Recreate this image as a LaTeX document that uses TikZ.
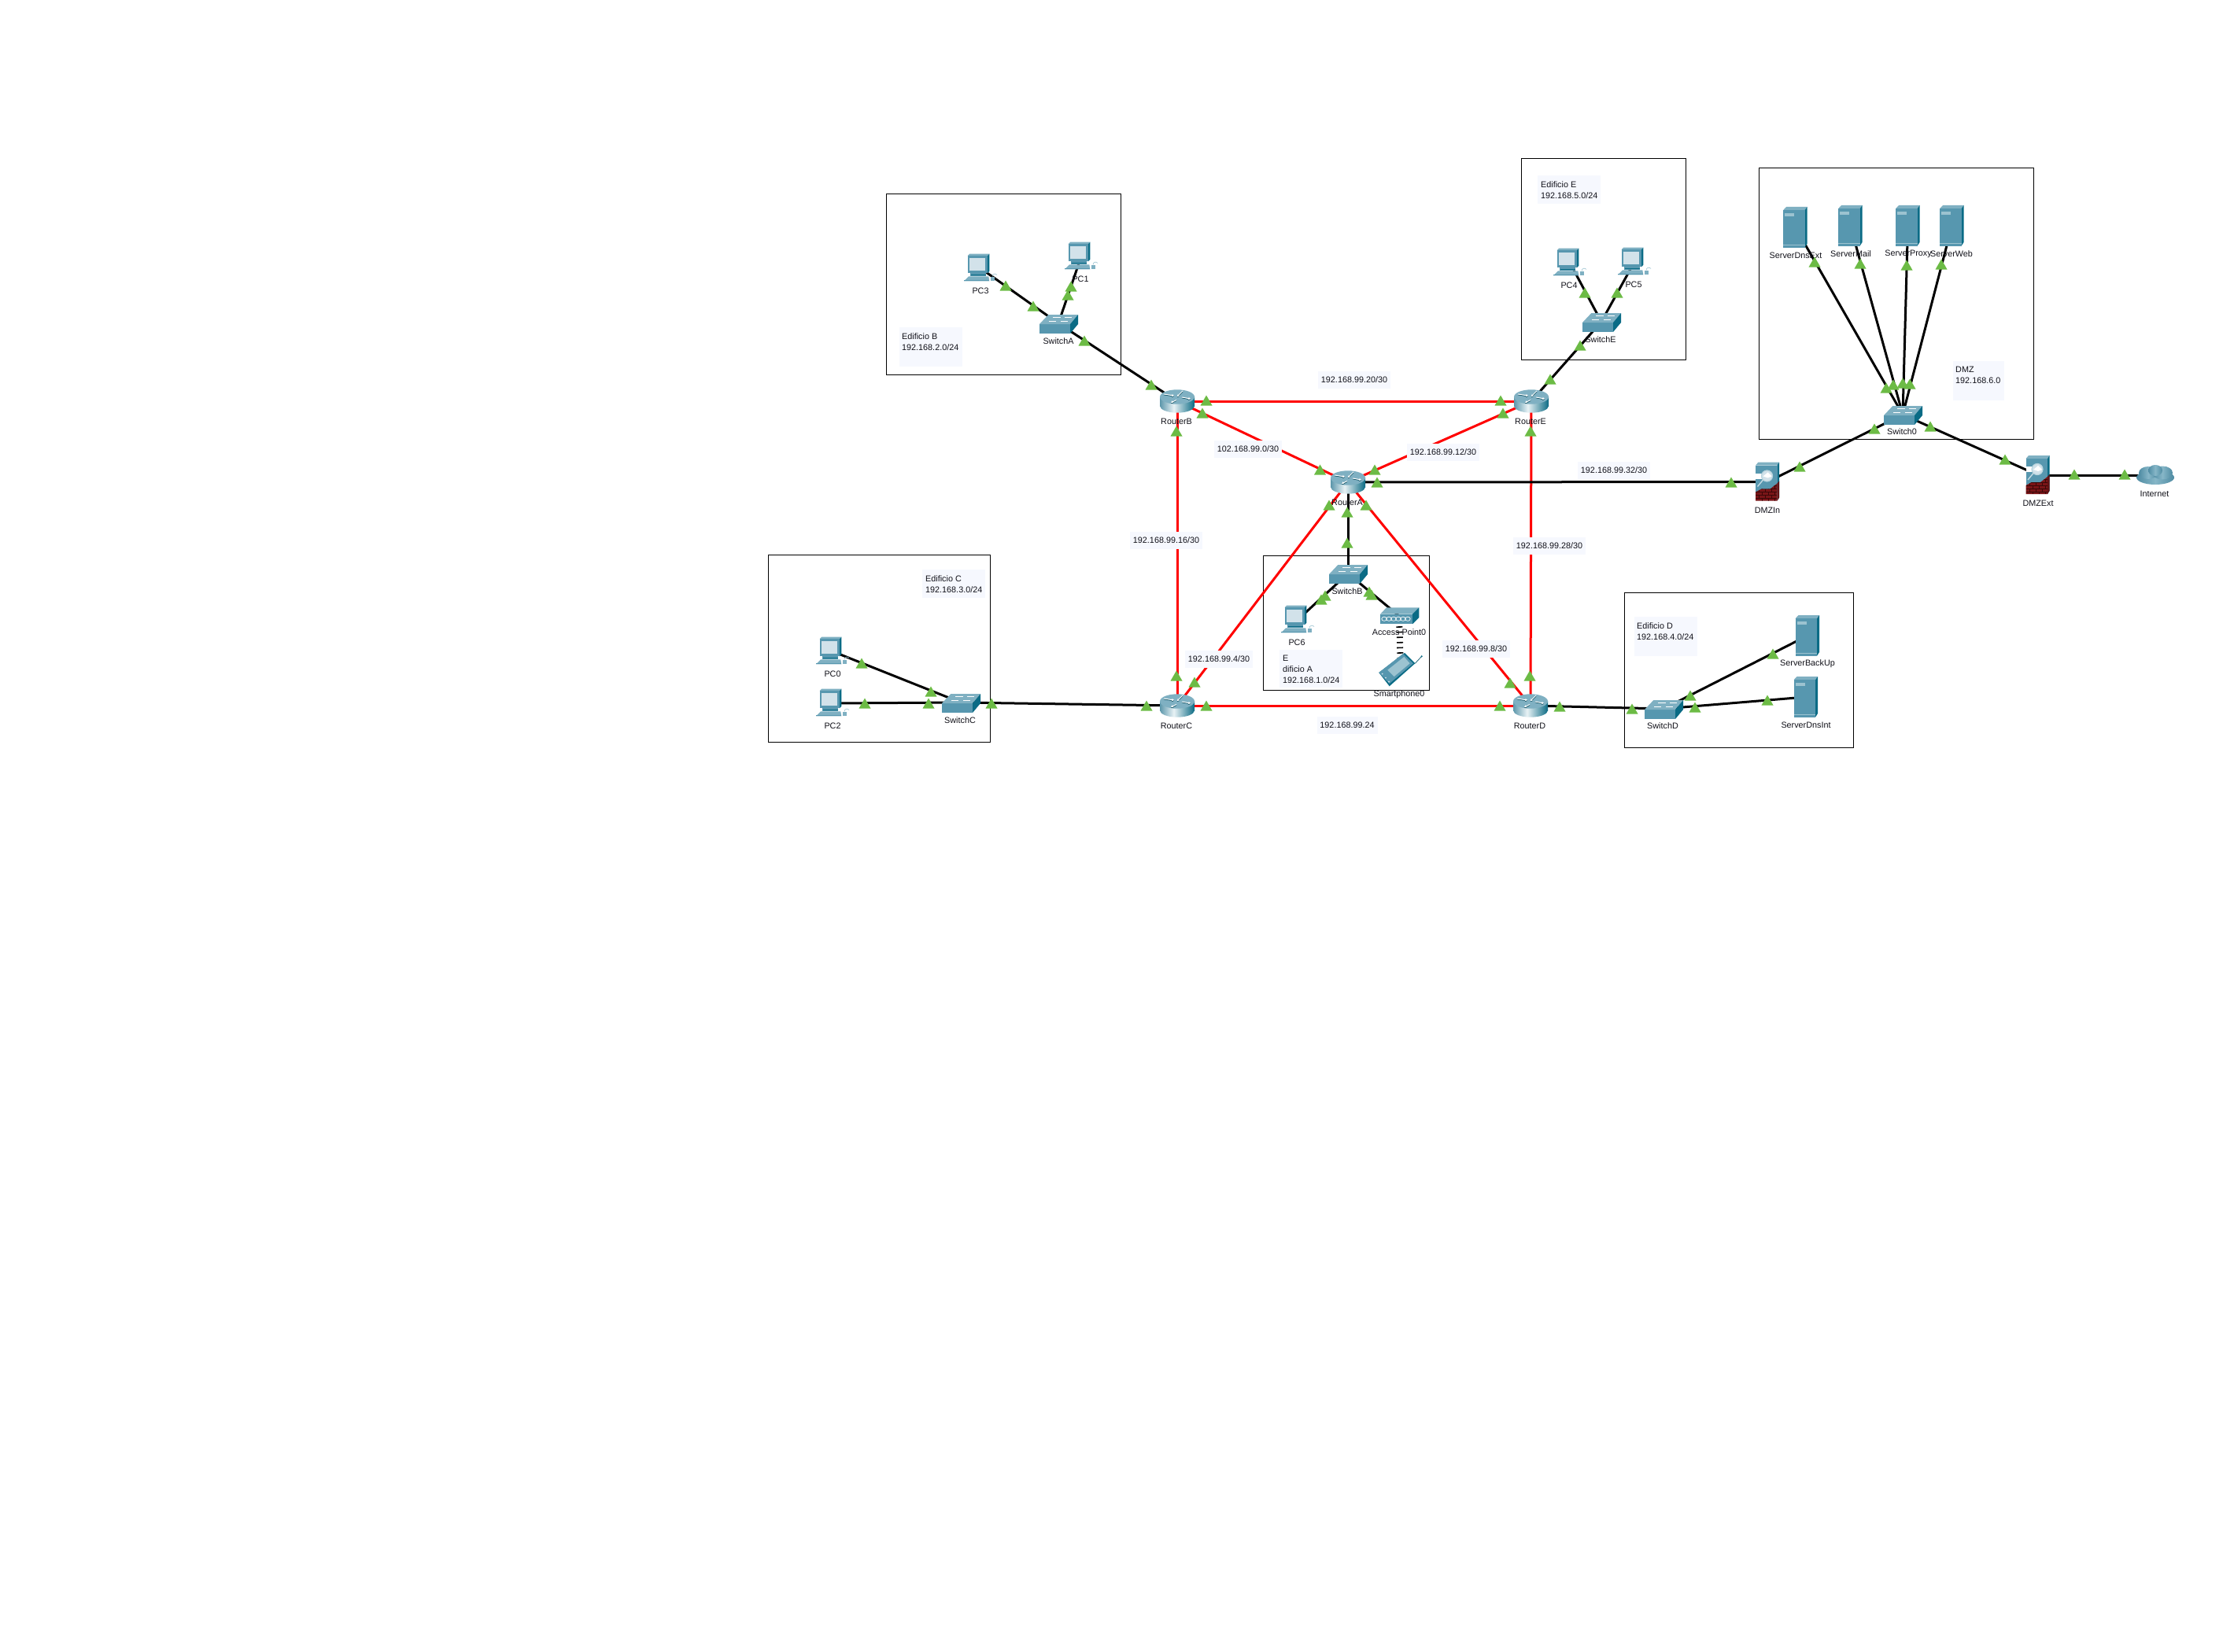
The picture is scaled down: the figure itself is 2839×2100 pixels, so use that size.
\documentclass[tikz,border=0pt]{standalone}
\usepackage{fontspec}
\setmainfont{Liberation Sans}
\usetikzlibrary{arrows.meta}
\definecolor{linkred}{HTML}{FF0000}
\definecolor{triG}{HTML}{6CBB45}
\definecolor{noteBg}{HTML}{F6F8FE}
\definecolor{txtC}{HTML}{101018}
\definecolor{tealF}{HTML}{5797AF}
\definecolor{tealT}{HTML}{7FB0C2}
\definecolor{tealS}{HTML}{0A6B85}
\definecolor{tealL}{HTML}{9CC3D0}
\definecolor{screenC}{HTML}{D2E2EA}
\definecolor{brickC}{HTML}{7A1518}
\definecolor{brickD}{HTML}{3A0808}
\definecolor{rtA}{HTML}{5C97AB}
\definecolor{rtB}{HTML}{E8F2F5}
\definecolor{rtC}{HTML}{0C6B84}
\definecolor{cldA}{HTML}{4F8CA3}
\definecolor{cldB}{HTML}{86B6C7}
\pgfdeclarehorizontalshading{rbody}{100bp}{color(0bp)=(rtA); color(25bp)=(rtA); color(45bp)=(rtB); color(75bp)=(rtC); color(100bp)=(rtC)}
\pgfdeclarehorizontalshading{cbody}{100bp}{color(0bp)=(cldA); color(25bp)=(cldA); color(50bp)=(cldB); color(75bp)=(cldA); color(100bp)=(cldA)}
\newcommand{\txtsize}{\fontsize{10.8}{14}\selectfont}
\tikzset{
  devbox/.style={inner sep=0pt,outer sep=0pt},
  wired/.style={black,line width=3pt},
  redlink/.style={linkred,line width=3pt},
  wirel/.style={black,line width=8pt,dash pattern=on 1.6pt off 5pt},
  area/.style={draw=black,line width=1pt,fill=none},
  devlbl/.style={font=\txtsize,text=txtC,inner sep=0pt},
  linklbl/.style={font=\txtsize,text=txtC,fill=noteBg,inner sep=0pt,minimum height=22pt,minimum width=92pt},
  notebg/.style={fill=noteBg,inner sep=0pt},
  notetxt/.style={font=\txtsize,text=txtC,inner sep=0pt,align=left,anchor=north west},
  pics/ltri/.style={code={\fill[triG] (-7.5,6.5) -- (0,-6.5) -- (7.5,6.5) -- cycle;}},
  pics/rtricon/.style={code={
    \shade[shading=rbody] (-22,-5.5) rectangle (22,6);
    \shade[shading=rbody] (0,6) ellipse (22 and 8.7);
    \fill[tealT] (0,-5.5) ellipse (22 and 9.2);
    \begin{scope}[line width=1pt,-{Stealth[length=3pt,width=3.5pt]}]
      \draw[tealS!70!black] (-17,-8.2) -- (-4,-6.2);
      \draw[tealS!70!black] (7,-12.2) -- (0,-5.2);
      \draw[tealS!70!black] (6,-4.2) -- (17,-2.2);
      \draw[tealS!70!black] (-1,-0.7) -- (-8,2.8);
      \draw[white] (-17,-9) -- (-4,-7);
      \draw[white] (7,-13) -- (0,-6);
      \draw[white] (6,-5) -- (17,-3);
      \draw[white] (-1,-1.5) -- (-8,2);
    \end{scope}
  }},
  pics/swicon/.style={code={
    \fill[tealF] (-24,1) rectangle (15,13);
    \fill[tealT] (-24,1) -- (-12.7,-11) -- (25,-11) -- (15,1) -- cycle;
    \fill[tealS] (15,1) -- (25,-11) -- (25,1) -- (15,13) -- cycle;
    \draw[white,line width=.8pt] (-7,-8) -- (3,-8) (8,-8) -- (17,-8) (-12,-3) -- (-3,-3) (3,-3) -- (12,-3);
  }},
  pics/pcicon/.style={code={
    \fill[tealT] (-16.3,-15.7) -- (-14,-18.3) -- (11.3,-18.3) -- (8.7,-15.7) -- cycle;
    \fill[tealS] (8.7,-15.7) -- (11.3,-18.3) -- (11.3,3.7) -- (8.7,6.3) -- cycle;
    \fill[tealF] (-16.3,-15.7) rectangle (8.7,6.3);
    \fill[screenC] (-14,-13) rectangle (6.3,3);
    \fill[tealF] (-13,6.3) rectangle (7,10);
    \fill[tealS] (-12,8) rectangle (7,9);
    \fill[tealT] (-21,16.3) -- (-15,10.3) -- (10.3,10.3) -- (11.3,16.3) -- cycle;
    \fill[tealF] (-21,15) rectangle (11,16.3);
    \fill[tealT] (12.5,10.5) rectangle (18,16.3);
    \draw[tealL,line width=.6pt] (15,10.5) .. controls (15,7) and (19,6) .. (21,8.5);
  }},
  pics/srvicon/.style={code={
    \fill[tealT] (-15.5,-21.7) -- (-11.5,-26) -- (15,-26) -- (12,-21.7) -- cycle;
    \fill[tealS] (12,-21.7) -- (15,-26) -- (15,21) -- (12,25.7) -- cycle;
    \fill[tealF] (-15.5,-21.7) rectangle (12,25.7);
    \fill[tealL] (-13.5,-17.7) rectangle (-1.5,-13.7);
    \fill[tealL] (-15.5,21.5) rectangle (12,23);
  }},
  pics/fwicon/.style={code={
    \fill[tealT] (-15.5,-21) -- (-12,-25) -- (14.5,-25) -- (12,-21) -- cycle;
    \fill[tealS] (12,-21) -- (14.5,-25) -- (14.5,20) -- (12,24) -- cycle;
    \fill[tealF] (-15.5,-21) rectangle (12,13);
    \fill[brickC] (-15.5,13) -- (-8,9) -- (3,9) -- (12,2) -- (12,24) -- (-15.5,24) -- cycle;
    \fill[brickC!80!black] (12,2) -- (14.5,-1) -- (14.5,20) -- (12,24) -- cycle;
    \begin{scope}
      \clip (-15.5,13) -- (-8,9) -- (3,9) -- (12,2) -- (12,24) -- (-15.5,24) -- cycle;
      \foreach \yy in {5,9,13,17,21}{\draw[brickD,line width=.7pt] (-15.5,\yy) -- (12,\yy);}
      \foreach \xx in {-11,-3,5}{\draw[brickD,line width=.6pt] (\xx,9) -- (\xx,13) (\xx,17) -- (\xx,21);}
      \foreach \xx in {-7,1,9}{\draw[brickD,line width=.6pt] (\xx,5) -- (\xx,9) (\xx,13) -- (\xx,17) (\xx,21) -- (\xx,24);}
    \end{scope}
    \fill[white] (-15.5,-11) rectangle (-8,-4);
    \fill[screenC] (-1,-7.5) circle (7);
    \fill[white] (-6,-7) -- (0,-12) -- (5,-7) -- (0,-5) -- cycle;
    \draw[tealL!70!white,line width=1.2pt] (-1,-7.5) circle (7);
    \draw[tealL!60!white,line width=1.4pt] (-6,-2.5) -- (-13,6);
  }},
  pics/cldicon/.style={code={
    \shade[shading=cbody] (0,3) ellipse (24 and 9);
    \shade[shading=cbody] (-9,-3) ellipse (12 and 8);
    \shade[shading=cbody] (9,-3) ellipse (13 and 8.5);
    \shade[shading=cbody] (0,-6) ellipse (9 and 7);
  }},
  pics/apicon/.style={code={
    \fill[tealT] (-24,-2.3) -- (-16,-10.7) -- (25.3,-10.7) -- (17,-2.3) -- cycle;
    \fill[tealS] (17,-2.3) -- (25.3,-10.7) -- (25.3,2) -- (17,10.3) -- cycle;
    \fill[tealF] (-24,-2.3) rectangle (17,10.3);
    \foreach \xx in {-19,-13,-7,-1,5,11}{\draw[white,line width=.7pt] (\xx,3.7) ellipse (3.2 and 2.6);}
  }},
  pics/phicon/.style={code={
    \draw[tealS!80!black,line width=.7pt] (18.3,-7.7) -- (26.7,-16.7);
    \fill[tealS] (26.7,-16.7) circle (1.2);
    \fill[tealS] (-27.7,4) -- (5,-21) -- (18.3,-7.7) -- (-14.3,21.3) -- cycle;
    \fill[tealF] (-27.7,4) -- (3,-20) -- (16,-7.7) -- (-14.3,18) -- cycle;
    \fill[tealL] (-16.7,0.7) -- (4.3,-16) -- (11.7,-7.7) -- (-8.3,9) -- cycle;
    \fill[screenC] (-23.3,5.7) circle (1) (-19,10.7) circle (1) (-15,15.7) circle (1);
  }},
}
\begin{document}
\begin{tikzpicture}[x=1pt,y=-1pt]
\useasboundingbox (0,0) rectangle (2839,2100);
% device anchors
\node[devbox,minimum width=45pt,minimum height=30pt] (RouterA) at (1713,613) {};
\node[devbox,minimum width=45pt,minimum height=30pt] (RouterB) at (1496,510) {};
\node[devbox,minimum width=45pt,minimum height=30pt] (RouterC) at (1496,897) {};
\node[devbox,minimum width=45pt,minimum height=30pt] (RouterD) at (1945,897) {};
\node[devbox,minimum width=45pt,minimum height=30pt] (RouterE) at (1946,510) {};
\node[devbox,minimum width=49pt,minimum height=24pt] (SwitchA) at (1345,411) {};
\node[devbox,minimum width=49pt,minimum height=24pt] (SwitchB) at (1713,729) {};
\node[devbox,minimum width=49pt,minimum height=24pt] (SwitchC) at (1221,893) {};
\node[devbox,minimum width=49pt,minimum height=24pt] (SwitchD) at (2114,901) {};
\node[devbox,minimum width=49pt,minimum height=24pt] (SwitchE) at (2035,409) {};
\node[devbox,minimum width=49pt,minimum height=24pt] (Switch0) at (2418,527) {};
\node[devbox,minimum width=45pt,minimum height=36pt] (PC0) at (1058,828) {};
\node[devbox,minimum width=45pt,minimum height=36pt] (PC1) at (1374,326) {};
\node[devbox,minimum width=45pt,minimum height=36pt] (PC2) at (1058,894) {};
\node[devbox,minimum width=45pt,minimum height=36pt] (PC3) at (1246,341) {};
\node[devbox,minimum width=45pt,minimum height=36pt] (PC4) at (1995,334) {};
\node[devbox,minimum width=45pt,minimum height=36pt] (PC5) at (2077,333) {};
\node[devbox,minimum width=45pt,minimum height=36pt] (PC6) at (1649,788) {};
\node[devbox,minimum width=31pt,minimum height=52pt] (SrvDnsExt) at (2281.5,289) {};
\node[devbox,minimum width=31pt,minimum height=52pt] (SrvMail) at (2351.5,287) {};
\node[devbox,minimum width=31pt,minimum height=52pt] (SrvProxy) at (2424.5,287) {};
\node[devbox,minimum width=31pt,minimum height=52pt] (SrvWeb) at (2480.5,287) {};
\node[devbox,minimum width=31pt,minimum height=52pt] (SrvBackUp) at (2297,808) {};
\node[devbox,minimum width=31pt,minimum height=52pt] (SrvDnsInt) at (2295,886) {};
\node[devbox,minimum width=31pt,minimum height=51pt] (DMZIn) at (2246.5,612.5) {};
\node[devbox,minimum width=31pt,minimum height=51pt] (DMZExt) at (2590,604) {};
\node[devbox,minimum width=49pt,minimum height=26pt] (Internet) at (2739,604) {};
\node[devbox,minimum width=50pt,minimum height=21pt] (AP0) at (1778,783) {};
\node[devbox,minimum width=56pt,minimum height=42pt] (Phone0) at (1780,851) {};
% area boxes
\draw[area] (1126.5,247) rectangle (1424,476);
\draw[area] (1933,202) rectangle (2142,457);
\draw[area] (2235,214) rectangle (2584,558);
\draw[area] (976,705) rectangle (1258,943);
\draw[area] (1605,706) rectangle (1816,877);
\draw[area] (2064,753) rectangle (2355,950);
% red links
\foreach \aa/\bb in {RouterB/RouterE,RouterB/RouterA,RouterE/RouterA,RouterB/RouterC,RouterE/RouterD,RouterC/RouterA,RouterD/RouterA,RouterC/RouterD}
  {\draw[redlink] (\aa.center) -- (\bb.center);}
% black links
\foreach \aa/\bb in {PC3/SwitchA,PC1/SwitchA,SwitchA/RouterB,PC4/SwitchE,PC5/SwitchE,SwitchE/RouterE,SwitchB/RouterA,SwitchB/PC6,SwitchB/AP0,PC0/SwitchC,PC2/SwitchC,SwitchC/RouterC,RouterD/SwitchD,SwitchD/SrvBackUp,SwitchD/SrvDnsInt,SrvDnsExt/Switch0,SrvMail/Switch0,SrvProxy/Switch0,SrvWeb/Switch0,Switch0/DMZIn,Switch0/DMZExt,DMZExt/Internet,DMZIn/RouterA}
  {\draw[wired] (\aa.center) -- (\bb.center);}
\draw[wirel] (AP0.center) -- (Phone0.center);
% icons
\foreach \nn in {RouterA,RouterB,RouterC,RouterD,RouterE}{\path (\nn.center) pic {rtricon};}
\foreach \nn in {SwitchA,SwitchB,SwitchC,SwitchD,SwitchE,Switch0}{\path (\nn.center) pic {swicon};}
\foreach \nn in {PC0,PC1,PC2,PC3,PC4,PC5,PC6}{\path (\nn.center) pic {pcicon};}
\foreach \nn in {SrvDnsExt,SrvMail,SrvProxy,SrvWeb,SrvBackUp,SrvDnsInt}{\path (\nn.center) pic {srvicon};}
\foreach \nn in {DMZIn,DMZExt}{\path (\nn.center) pic {fwicon};}
\path (Internet.center) pic {cldicon};
\path (AP0.center) pic {apicon};
\path (Phone0.center) pic {phicon};
% device labels
\node[devlbl] (lRA) at (1712,639) {RouterA};
\node[devlbl] (lRB) at (1495,536) {RouterB};
\node[devlbl] (lRC) at (1495,923) {RouterC};
\node[devlbl] (lRD) at (1944,923) {RouterD};
\node[devlbl] (lRE) at (1945,536) {RouterE};
\node[devlbl] (lSA) at (1345,434) {SwitchA};
\node[devlbl] (lSB) at (1712,752) {SwitchB};
\node[devlbl] (lSC) at (1220,916) {SwitchC};
\node[devlbl] (lSD) at (2113,923) {SwitchD};
\node[devlbl] (lSE) at (2034,432) {SwitchE};
\node[devlbl] (lS0) at (2417,549) {Switch0};
\node[devlbl] (lP0) at (1058,857) {PC0};
\node[devlbl] (lP1) at (1373,355) {PC1};
\node[devlbl] (lP2) at (1058,923) {PC2};
\node[devlbl] (lP3) at (1246,370) {PC3};
\node[devlbl] (lP4) at (1994,363) {PC4};
\node[devlbl] (lP5) at (2076,362) {PC5};
\node[devlbl] (lP6) at (1648,817) {PC6};
\node[devlbl] (lDE) at (2282,325) {ServerDnsExt};
\node[devlbl] (lMa) at (2352,323) {ServerMail};
\node[devlbl] (lPr) at (2425,323) {ServerProxy};
\node[devlbl] (lWe) at (2480,323) {ServerWeb};
\node[devlbl] (lBU) at (2297,844) {ServerBackUp};
\node[devlbl] (lDI) at (2295,922) {ServerDnsInt};
\node[devlbl] (lFI) at (2246,649) {DMZIn};
\node[devlbl] (lFE) at (2590,640) {DMZExt};
\node[devlbl] (lIn) at (2738,628) {Internet};
\node[devlbl] (lAP) at (1778,804) {Access Point0};
\node[devlbl] (lPh) at (1778,883) {Smartphone0};
% link labels
\node[linklbl] (n20) at (1721,483) {192.168.99.20/30};
\node[linklbl,minimum width=86pt] (n0) at (1586,571) {102.168.99.0/30};
\node[linklbl] (n12) at (1834,575) {192.168.99.12/30};
\node[linklbl] (n16) at (1482,687) {192.168.99.16/30};
\node[linklbl] (n28) at (1969,694) {192.168.99.28/30};
\node[linklbl,minimum width=86pt] (n8) at (1876,825) {192.168.99.8/30};
\node[linklbl,minimum width=86pt] (n4) at (1549,838) {192.168.99.4/30};
\node[linklbl,minimum width=77pt] (n24) at (1712,922) {192.168.99.24};
\node[linklbl] (n32) at (2051,598) {192.168.99.32/30};
% notes
\node[notebg,minimum width=80pt,minimum height=50pt] (bgB) at (1183,441) {};
\node[notetxt] (tB) at (1146,423) {Edificio B\\192.168.2.0/24};
\node[notebg,minimum width=80pt,minimum height=36pt] (bgE) at (1994,241) {};
\node[notetxt] (tE) at (1958,230) {Edificio E\\192.168.5.0/24};
\node[notebg,minimum width=65pt,minimum height=50pt] (bgZ) at (2514.5,484) {};
\node[notetxt] (tZ) at (2485,466) {DMZ\\192.168.6.0};
\node[notebg,minimum width=80pt,minimum height=36pt] (bgC) at (1212,742) {};
\node[notetxt] (tC) at (1176,731) {Edificio C\\192.168.3.0/24};
\node[notebg,minimum width=80pt,minimum height=50pt] (bgD) at (2117,809) {};
\node[notetxt] (tD) at (2080,791) {Edificio D\\192.168.4.0/24};
\node[notebg,minimum width=80pt,minimum height=48pt] (bgA) at (1666,850) {};
\node[notetxt] (tA) at (1630,833) {E\\dificio A\\192.168.1.0/24};
% link lights
\foreach \xx/\yy in {1278/363,1313/389,1361/364,1357/375,1378/433,1463/489,1533/509,1528/525,1495/548,
  1907/509,1910/525,1945/548,1970/482,2008/439,2014/372,2055/372,
  1677.5/597,1747/597,1750/613,1689/642,1736/642,1712/651,1712/690,
  1684/757,1679/762,1740/752,1743/756,
  1919/868,1944/859,1906/897,1982/898,2074/901,2148/884,2154/899,2246/890,2253/831,
  1095/843,1183/879,1099/894,1180/894,1260/894,1457/897,1495/859,1518/867,1533/897,
  2306/333,2364/335,2423/337,2467/336,2397/493,2406/489,2418/487,2427/488,2382/545,2453/542,2287/593,2200/613,2548/584,2636/603,2700/603}
  {\path (\xx,\yy) pic {ltri};}
\end{tikzpicture}
\end{document}
